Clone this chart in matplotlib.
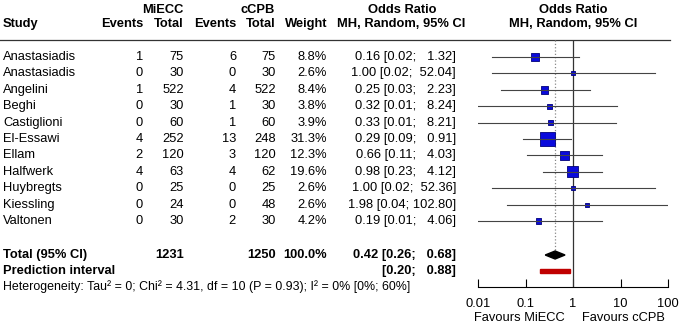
import numpy as np
import matplotlib.pyplot as plt
from matplotlib.patches import Polygon, Rectangle

plt.rcParams['font.family'] = ['Liberation Sans', 'DejaVu Sans']

# Datos
estudios = ['Anastasiadis', 'Anastasiadis', 'Angelini', 'Beghi', 'Castiglioni', 'El-Essawi',
            'Ellam', 'Halfwerk', 'Huybregts', 'Kiessling', 'Valtonen']
eventos_miecc = [1, 0, 1, 0, 0, 4, 2, 4, 0, 0, 0]
total_miecc = [75, 30, 522, 30, 60, 252, 120, 63, 25, 24, 30]
eventos_ccpb = [6, 0, 4, 1, 1, 13, 3, 4, 0, 0, 2]
total_ccpb = [75, 30, 522, 30, 60, 248, 120, 62, 25, 48, 30]
peso = [8.8, 2.6, 8.4, 3.8, 3.9, 31.3, 12.3, 19.6, 2.6, 2.6, 4.2]
odds = [0.16, 1.00, 0.25, 0.32, 0.33, 0.29, 0.66, 0.98, 1.00, 1.98, 0.19]
ic_inf = [0.02, 0.02, 0.03, 0.01, 0.01, 0.09, 0.11, 0.23, 0.02, 0.04, 0.01]
ic_sup = [1.32, 52.04, 2.23, 8.24, 8.21, 0.91, 4.03, 4.12, 52.36, 102.80, 4.06]

total_n = [1231, 1250]
pooled = [0.42, 0.26, 0.68]
prediccion = [0.20, 0.88]
ticks = [0.01, 0.1, 1, 10, 100]
heterogeneidad = 'Heterogeneity: Tau² = 0; Chi² = 4.31, df = 10 (P = 0.93); I² = 0% [0%; 60%]'

W, H = 680, 328
fs = 9.3

fig = plt.figure(figsize=(W / 100, H / 100), dpi=100)
ax = fig.add_axes([0, 0, 1, 1])
ax.set_xlim(0, W)
ax.set_ylim(H, 0)
ax.axis('off')

# eje del forest plot (pixeles en y, log en x)
x0, x1, y_top, y_eje = 478, 668, 40, 287
ax2 = fig.add_axes([x0 / W, (H - y_eje) / H, (x1 - x0) / W, (y_eje - y_top) / H])
ax2.set_xscale('log')
ax2.set_xlim(ticks[0], ticks[-1])
ax2.set_ylim(y_eje, y_top)
ax2.patch.set_alpha(0)
for s in ['top', 'left', 'right']:
    ax2.spines[s].set_visible(False)
ax2.spines['bottom'].set_linewidth(0.8)
ax2.set_yticks([])
ax2.set_xticks(ticks)
ax2.set_xticklabels(['0.01', '0.1', '1', '10', '100'])
ax2.minorticks_off()
ax2.tick_params(axis='x', direction='in', length=6, width=0.8, pad=8, labelsize=fs)

filas = 57 + 16.4 * np.arange(len(estudios))
y_total, y_pred, y_het = 255, 271, 287

def texto(x, y, s, ha='right', bold=False, size=fs):
    ax.text(x, y, s, ha=ha, va='center', fontsize=size,
            fontweight='bold' if bold else 'normal')

# encabezados
texto(163, 10, 'MiECC', 'center', True)
texto(258, 10, 'cCPB', 'center', True)
texto(402, 10, 'Odds Ratio', 'center', True)
texto(573, 10, 'Odds Ratio', 'center', True)
texto(3, 24, 'Study', 'left', True)
for x, s in [(143, 'Events'), (184, 'Total'), (236, 'Events'), (276, 'Total'), (327, 'Weight')]:
    texto(x, 24, s, bold=True)
texto(401, 24, 'MH, Random, 95% CI', 'center', True)
texto(573, 24, 'MH, Random, 95% CI', 'center', True)
ax.plot([0, 670], [40, 40], color='#333333', lw=0.9)

# filas de estudios
for i, y in enumerate(filas):
    texto(3, y, estudios[i], 'left')
    texto(143, y, str(eventos_miecc[i]))
    texto(184, y, str(total_miecc[i]))
    texto(236, y, str(eventos_ccpb[i]))
    texto(276, y, str(total_ccpb[i]))
    texto(327, y, f'{peso[i]:.1f}%')
    texto(456, y, f'{odds[i]:.2f} [{ic_inf[i]:.2f}; {ic_sup[i]:6.2f}]')

# total y prediccion
texto(3, y_total, 'Total (95% CI)', 'left', True)
texto(184, y_total, str(total_n[0]), bold=True)
texto(276, y_total, str(total_n[1]), bold=True)
texto(327, y_total, '100.0%', bold=True)
texto(456, y_total, f'{pooled[0]:.2f} [{pooled[1]:.2f}; {pooled[2]:6.2f}]', bold=True)
texto(3, y_pred, 'Prediction interval', 'left', True)
texto(456, y_pred, f'[{prediccion[0]:.2f}; {prediccion[1]:6.2f}]', bold=True)
texto(3, y_het, heterogeneidad, 'left', size=8.95)

texto(565, 318, 'Favours MiECC', 'right')
texto(582, 318, 'Favours cCPB', 'left')

# forest plot
ax2.plot([1, 1], [y_top, y_eje], color='#333333', lw=0.9)
ax2.plot([pooled[0], pooled[0]], [y_top, y_total - 4], color='#888888', lw=0.9, ls=':')
ax2.scatter(odds, filas, marker='s', s=3.4 * np.array(peso), color='#0a0adc',
            edgecolors='#00007a', linewidths=0.6, zorder=3)
for i, y in enumerate(filas):
    ax2.plot([ic_inf[i], ic_sup[i]], [y, y], color='#444444', lw=0.8, zorder=4)
ax2.add_patch(Polygon([(pooled[1], y_total), (pooled[0], y_total - 4),
                       (pooled[2], y_total), (pooled[0], y_total + 4)],
                      closed=True, color='black', zorder=5))
ax2.add_patch(Rectangle((prediccion[0], y_pred - 2), prediccion[1] - prediccion[0], 4,
                        color='#c00000', zorder=5))

fig.savefig('out.png', dpi=100)
